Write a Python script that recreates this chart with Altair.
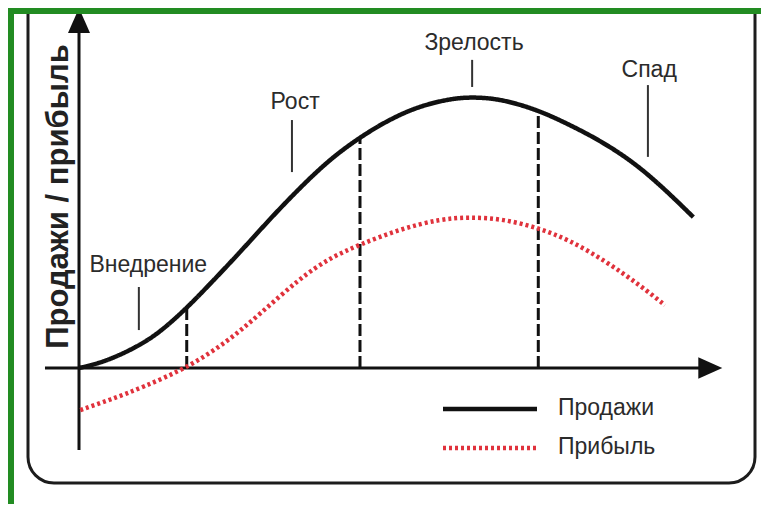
import altair as alt
import pandas as pd

# ---- data (time units t, sales/profit units v; sales peak = 100) ----
sales_t = [0, 3.3, 6.5, 9.7, 12.9, 17.1, 20.8, 25.6, 30.3, 35.1, 39.8, 44.6, 49.4, 54.1, 58.9, 62.1, 66.8, 72.9, 77.9, 82.7, 89.5, 97.5]
sales_v = [0, 1.8, 4.8, 8.5, 13.3, 22.1, 31.0, 42.8, 55.0, 66.6, 77.0, 85.2, 91.9, 96.7, 99.3, 100, 99.4, 95.2, 89.7, 84.0, 73.8, 55.7]

profit_t = [0.2, 4.9, 10.2, 17.1, 23.5, 28.7, 35.1, 39.8, 44.6, 51.0, 57.3, 62.1, 67.3, 72.9, 77.9, 83.8, 89.0, 93.0]
profit_v = [-15.5, -11.8, -7.0, 0, 9.6, 19.9, 33.2, 40.6, 45.6, 51.3, 55.0, 55.7, 55.0, 51.7, 47.2, 39.1, 30.6, 23.2]

series_names = ["Продажи", "Прибыль"]
series_colors = ["#111111", "#e0323c"]
series_dash = [[1, 0], [3, 3]]

stage_end_t = [17.1, 44.6, 72.9]
stage_end_top = [22.1, 85.2, 95.0]

stage_names = ["Внедрение", "Рост", "Зрелость", "Спад"]
label_t = [11.0, 34.3, 62.7, 90.5]
label_v = [38.0, 98.2, 119.9, 110.0]
tick_t = [9.5, 33.8, 62.4, 90.3]
tick_top = [29.9, 91.5, 113.7, 104.4]
tick_bottom = [14.0, 72.3, 103.7, 77.9]

y_axis_range = [-30.3, 123.6]   # vertical axis line extent
x_axis_range = [-5.4, 98.6]     # horizontal axis line extent
y_arrow_at = 128.2
x_arrow_at = 100.2

W, H = 753, 496
FONT = "Liberation Sans"
GREEN = "#228c22"

xscale = alt.Scale(domain=[-11.27, 108.25], nice=False, zero=False)
yscale = alt.Scale(domain=[-50.18, 132.84], nice=False, zero=False)
yaxis = alt.Axis(title="Продажи / прибыль", labels=False, ticks=False, domain=False, grid=False,
                 titleX=50, titleY=188, titleAngle=270, titleAlign="center", titleBaseline="middle",
                 titleFontSize=31, titleFontWeight="bold", titleFont=FONT, titleColor="#222222",
                 titlePadding=0, zindex=1)

one = pd.DataFrame({"a": [0]})

# frame: rounded panel and green strips
panel = alt.Chart(one).mark_rect(fill="white", stroke="#1c1c1c", strokeWidth=3, cornerRadius=26).encode(
    x=alt.value(20), x2=alt.value(747), y=alt.value(-40), y2=alt.value(475))
green_top = alt.Chart(one).mark_rect(color=GREEN).encode(
    x=alt.value(0), x2=alt.value(W), y=alt.value(0), y2=alt.value(6))
green_left = alt.Chart(one).mark_rect(color=GREEN).encode(
    x=alt.value(0), x2=alt.value(6), y=alt.value(0), y2=alt.value(H))

# dashed stage boundaries
bounds = pd.DataFrame({"t": stage_end_t, "top": stage_end_top, "base": [0] * len(stage_end_t)})
dashed = alt.Chart(bounds).mark_rule(color="#111111", strokeWidth=3, strokeDash=[12, 4]).encode(
    x=alt.X("t:Q", scale=xscale, axis=None),
    y=alt.Y("base:Q", scale=yscale, axis=yaxis),
    y2="top:Q")

# stage label ticks and texts
stages = pd.DataFrame({"name": stage_names, "lt": label_t, "lv": label_v,
                       "tt": tick_t, "top": tick_top, "bot": tick_bottom})
ticks = alt.Chart(stages).mark_rule(color="#333333", strokeWidth=2).encode(
    x=alt.X("tt:Q", scale=xscale, axis=None),
    y=alt.Y("bot:Q", scale=yscale, axis=yaxis),
    y2="top:Q")
labels = alt.Chart(stages).mark_text(font=FONT, fontSize=23, color="#2b2b2b",
                                     align="center", baseline="middle").encode(
    x=alt.X("lt:Q", scale=xscale, axis=None),
    y=alt.Y("lv:Q", scale=yscale, axis=yaxis),
    text="name:N")

# axes lines and arrows
yline_df = pd.DataFrame({"t": [0], "lo": [y_axis_range[0]], "hi": [y_axis_range[1]]})
yline = alt.Chart(yline_df).mark_rule(color="#111111", strokeWidth=3).encode(
    x=alt.X("t:Q", scale=xscale, axis=None),
    y=alt.Y("lo:Q", scale=yscale, axis=yaxis), y2="hi:Q")
xline_df = pd.DataFrame({"lo": [x_axis_range[0]], "hi": [x_axis_range[1]], "v": [0]})
xline = alt.Chart(xline_df).mark_rule(color="#111111", strokeWidth=3).encode(
    x=alt.X("lo:Q", scale=xscale, axis=None), x2="hi:Q",
    y=alt.Y("v:Q", scale=yscale, axis=yaxis))
yarrow = alt.Chart(pd.DataFrame({"t": [0], "v": [y_arrow_at]})).mark_point(
    shape="M0,-1L0.88,1L-0.88,1Z", filled=True, color="#111111", size=625, opacity=1).encode(
    x=alt.X("t:Q", scale=xscale, axis=None), y=alt.Y("v:Q", scale=yscale, axis=yaxis))
xarrow = alt.Chart(pd.DataFrame({"t": [x_arrow_at], "v": [0]})).mark_point(
    shape="M1,0L-1,-0.9L-1,0.9Z", filled=True, color="#111111", size=576, opacity=1).encode(
    x=alt.X("t:Q", scale=xscale, axis=None), y=alt.Y("v:Q", scale=yscale, axis=yaxis))

# curves
lines_df = pd.concat([
    pd.DataFrame({"t": sales_t, "v": sales_v, "series": series_names[0]}),
    pd.DataFrame({"t": profit_t, "v": profit_v, "series": series_names[1]}),
], ignore_index=True)

curves = alt.Chart(lines_df).mark_line(strokeWidth=4.5, interpolate="basis").encode(
    x=alt.X("t:Q", scale=xscale, axis=None),
    y=alt.Y("v:Q", scale=yscale, axis=yaxis),
    color=alt.Color("series:N", scale=alt.Scale(domain=series_names, range=series_colors), legend=None),
    strokeDash=alt.StrokeDash("series:N", scale=alt.Scale(domain=series_names, range=series_dash), legend=None),
)

# legend (drawn by hand: one row per series)
legend_layers = []
legend_rows_y = [401, 440]
for name, col, dash, ry in zip(series_names, series_colors, series_dash, legend_rows_y):
    row = pd.DataFrame({"series": [name]})
    legend_layers.append(alt.Chart(row).mark_rule(color=col, strokeWidth=4.5, strokeDash=dash).encode(
        x=alt.value(435), x2=alt.value(529), y=alt.value(ry)))
    legend_layers.append(alt.Chart(row).mark_text(font=FONT, fontSize=23, color="#2b2b2b",
                                                  align="left", baseline="middle").encode(
        x=alt.value(550), y=alt.value(ry - 1), text="series:N"))

chart = alt.layer(panel, dashed, ticks, labels, yline, xline, yarrow, xarrow,
                  curves, *legend_layers, green_top, green_left).properties(
    width=W, height=H, background="white", padding=0,
    autosize=alt.AutoSizeParams(type="none"),
).configure_view(stroke=None)

chart.save("out.html", embed_options={"renderer": "svg", "actions": False})
